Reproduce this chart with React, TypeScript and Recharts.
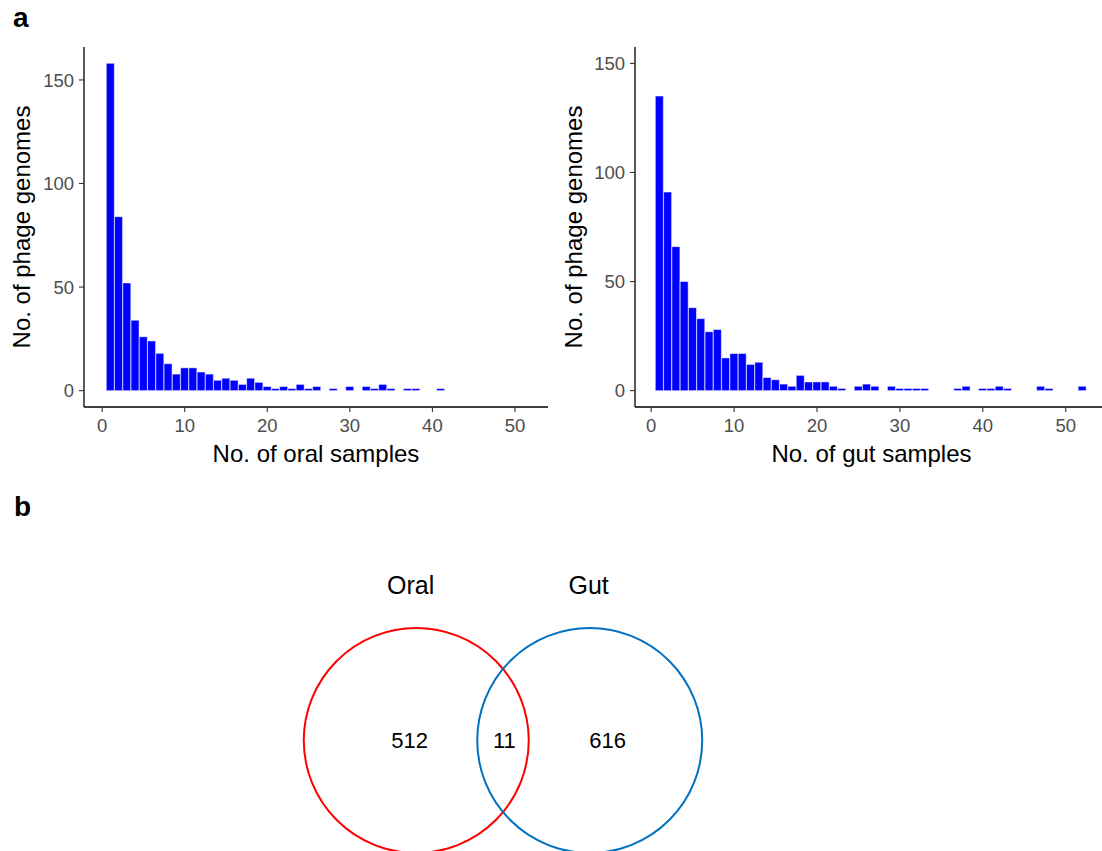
import { BarChart, Bar, XAxis, YAxis, ScatterChart, Scatter } from "recharts";

const FONT = "'Liberation Sans', Arial, Helvetica, sans-serif";

// histogram bins: number of samples a phage genome was found in
const sampleBins = [
  1, 2, 3, 4, 5, 6, 7, 8, 9, 10, 11, 12, 13, 14, 15, 16, 17, 18, 19, 20, 21, 22, 23, 24, 25, 26,
  27, 28, 29, 30, 31, 32, 33, 34, 35, 36, 37, 38, 39, 40, 41, 42, 43, 44, 45, 46, 47, 48, 49, 50,
  51, 52,
];

const oralGenomes = [
  158, 84, 52, 34, 26, 24, 18, 13, 8, 11, 11, 9, 8, 5, 6, 5, 3, 6, 4, 2, 1, 2, 1, 3, 1, 2,
  0, 1, 0, 2, 0, 2, 1, 3, 1, 0, 1, 1, 0, 0, 1, 0, 0, 0, 0, 0, 0, 0, 0, 0,
  0, 0,
];

const gutGenomes = [
  135, 91, 66, 50, 38, 33, 27, 28, 15, 17, 17, 12, 13, 6, 5, 3, 2, 7, 4, 4, 4, 2, 1, 0, 2, 3,
  2, 0, 2, 1, 1, 1, 1, 0, 0, 0, 1, 2, 0, 1, 1, 2, 1, 0, 0, 0, 2, 1, 0, 0,
  0, 2,
];

const xTicks = [0, 10, 20, 30, 40, 50];
const yTicks = [0, 50, 100, 150];

const oralData = sampleBins.map((s, i) => ({ samples: s, genomes: oralGenomes[i] }));
const gutData = sampleBins.map((s, i) => ({ samples: s, genomes: gutGenomes[i] }));

// venn diagram
const vennSets = ["Oral", "Gut"];
const vennColors = ["#ff0000", "#0070c0"];
const vennCounts = [512, 11, 616]; // oral only, shared, gut only

// venn layout (unit = circle radius)
const VENN_W = 480;
const VENN_H = 320;
const VENN_X_DOMAIN: [number, number] = [-2.1333, 2.1333];
const VENN_Y_DOMAIN: [number, number] = [-1.24, 1.6044];
const VENN_R_PX = VENN_W / (VENN_X_DOMAIN[1] - VENN_X_DOMAIN[0]);
const circleX = [-0.771, 0.771];
const countX = [-0.83, 0.012, 0.93];

const circleData = vennSets.map((name, i) => ({ x: circleX[i], y: 0, color: vennColors[i] }));
const setLabelData = vennSets.map((name, i) => ({ x: circleX[i] - (i === 0 ? 0.05 : 0.01), y: 1.382, text: name }));
const countData = vennCounts.map((n, i) => ({ x: countX[i], y: 0, text: String(n) }));

const tickStyle = { fill: "#4d4d4d", fontSize: 18.5, fontFamily: FONT };

function Histogram(props: {
  data: { samples: number; genomes: number }[];
  left: number;
  width: number;
  marginRight: number;
  yWidth: number;
  xDomain: [number, number];
  yDomain: [number, number];
  xLabel: string;
  yLabelOffset: number;
}) {
  const { data, left, width, marginRight, yWidth, xDomain, yDomain, xLabel, yLabelOffset } = props;
  return (
    <div style={{ position: "absolute", left, top: 0 }}>
      <BarChart
        width={width}
        height={480}
        data={data}
        margin={{ top: 47, right: marginRight, bottom: 43, left: 0 }}
        barCategoryGap={0}
        barGap={0}
      >
        <XAxis
          type="number"
          dataKey="samples"
          domain={xDomain}
          ticks={xTicks}
          allowDataOverflow
          height={30}
          tickSize={5}
          tickMargin={7}
          tick={tickStyle}
          tickLine={{ stroke: "#333333", strokeWidth: 1.1 }}
          axisLine={{ stroke: "#000000", strokeWidth: 1.3 }}
          label={{
            value: xLabel,
            position: "bottom",
            offset: 8,
            style: { fill: "#000", fontSize: 24, fontFamily: FONT },
          }}
        />
        <YAxis
          type="number"
          domain={yDomain}
          ticks={yTicks}
          allowDataOverflow
          width={yWidth}
          tickSize={5}
          tickMargin={5}
          tick={tickStyle}
          tickLine={{ stroke: "#333333", strokeWidth: 1.1 }}
          axisLine={{ stroke: "#000000", strokeWidth: 1.3 }}
          label={{
            value: "No. of phage genomes",
            angle: -90,
            position: "insideLeft",
            offset: yLabelOffset,
            style: { textAnchor: "middle", fill: "#000", fontSize: 24, fontFamily: FONT },
          }}
        />
        <Bar
          dataKey="genomes"
          fill="#0000ff"
          stroke="#ffffff"
          strokeWidth={0.5}
          isAnimationActive={false}
        />
      </BarChart>
    </div>
  );
}

export default function App() {
  return (
    <div
      style={{
        position: "absolute",
        left: 0,
        top: 0,
        width: 1102,
        height: 851,
        overflow: "hidden",
        background: "#ffffff",
        fontFamily: FONT,
      }}
    >
      <svg width={1102} height={851} style={{ position: "absolute", left: 0, top: 0 }}>
        <text x={13} y={27} fontSize={28} fontWeight="bold" fontFamily={FONT} fill="#000">
          a
        </text>
        <text x={14} y={516} fontSize={28} fontWeight="bold" fontFamily={FONT} fill="#000">
          b
        </text>
      </svg>

      <Histogram
        data={oralData}
        left={0}
        width={560}
        marginRight={12}
        yWidth={84}
        xDomain={[-2.2, 54]}
        yDomain={[-7.9, 165.9]}
        xLabel="No. of oral samples"
        yLabelOffset={21}
      />
      <Histogram
        data={gutData}
        left={555}
        width={560}
        marginRight={7}
        yWidth={80}
        xDomain={[-1.95, 55.1]}
        yDomain={[-7.5, 157.5]}
        xLabel="No. of gut samples"
        yLabelOffset={18}
      />

      <div style={{ position: "absolute", left: 263, top: 560 }}>
        <ScatterChart width={VENN_W} height={VENN_H} margin={{ top: 0, right: 0, bottom: 0, left: 0 }}>
          <XAxis type="number" dataKey="x" domain={VENN_X_DOMAIN} hide />
          <YAxis type="number" dataKey="y" domain={VENN_Y_DOMAIN} hide />
          <Scatter
            data={circleData}
            isAnimationActive={false}
            shape={(p: any) => (
              <circle cx={p.cx} cy={p.cy} r={VENN_R_PX} fill="none" stroke={p.payload.color} strokeWidth={2} />
            )}
          />
          <Scatter
            data={setLabelData}
            isAnimationActive={false}
            shape={(p: any) => (
              <text
                x={p.cx}
                y={p.cy}
                textAnchor="middle"
                dominantBaseline="central"
                fontSize={25}
                fontFamily={FONT}
                fill="#000"
              >
                {p.payload.text}
              </text>
            )}
          />
          <Scatter
            data={countData}
            isAnimationActive={false}
            shape={(p: any) => (
              <text
                x={p.cx}
                y={p.cy}
                textAnchor="middle"
                dominantBaseline="central"
                fontSize={22}
                fontFamily={FONT}
                fill="#000"
              >
                {p.payload.text}
              </text>
            )}
          />
        </ScatterChart>
      </div>
    </div>
  );
}
